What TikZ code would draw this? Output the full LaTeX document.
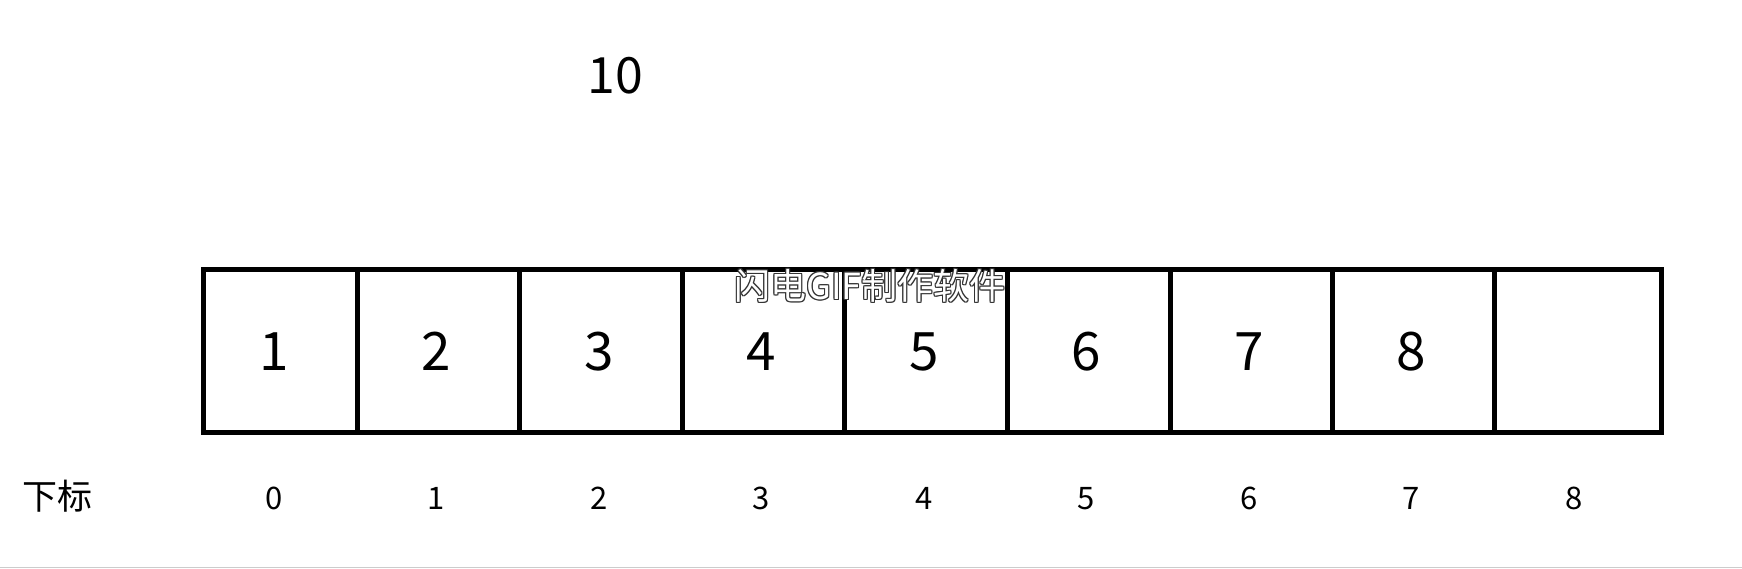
\documentclass[tikz,border=0pt]{standalone}
\usepackage{fontspec}
\setmainfont{Noto Sans CJK SC}
\begin{document}
\begin{tikzpicture}[x=1pt,y=-1pt,
  grid/.style={line width=5pt, draw=black},
  val/.style={anchor=base, inner sep=0pt, font=\fontsize{53}{53}\selectfont},
  idx/.style={anchor=base, inner sep=0pt, font=\fontsize{31}{31}\selectfont},
  wm/.style={anchor=base, inner sep=0pt, font=\fontsize{36}{36}\selectfont}]
\useasboundingbox (0,0) rectangle (1742,568);
% bottom grey rule
\coordinate (gl) at (0,567.3);
\coordinate (gr) at (1742,567.3);
\draw[line width=1.5pt, draw=black!20] (gl) -- (gr);
% array outline
\draw[grid, line join=miter] (203,269.2) rectangle (1661,432);
\foreach \xx in {357.5,519.5,682,844,1007.5,1170,1332.5,1494.5}
  \draw[grid] (\xx,269.2) -- (\xx,432);
% values
\foreach \v [count=\i from 0] in {1,2,3,4,5,6,7,8}
  \node[val] (v\i) at ({274+162.5*\i},370.7) {\v};
% indices
\foreach \v [count=\i from 0] in {0,1,2,3,4,5,6,7,8}
  \node[idx] (i\i) at ({274+162.5*\i},509.3) {\v};
\node[anchor=base, inner sep=0pt, font=\fontsize{35}{35}\selectfont] (lbl) at (58,509.5) {下标};
% top value
\node[anchor=base, inner sep=0pt, font=\fontsize{50}{50}\selectfont] (top) at (615,93.3) {10};
% watermark (outlined)
\foreach \dx/\dy in {-1/-1,0/-1,1/-1,-1/0,1/0,-1/1,0/1,1/1}
  \node[wm, text=black!80] at (870+\dx,299+\dy) {闪电GIF制作软件};
\node[wm, text=white] (wmk) at (870,299) {闪电GIF制作软件};
\end{tikzpicture}
\end{document}
